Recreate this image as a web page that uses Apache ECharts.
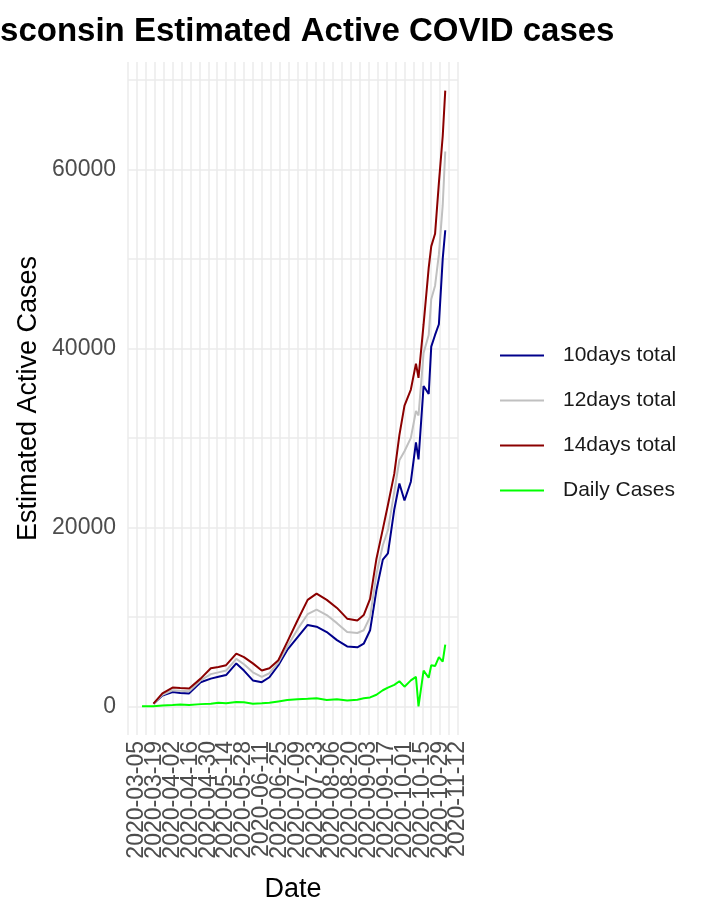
<!DOCTYPE html>
<html>
<head>
<meta charset="utf-8">
<script src="https://cdn.jsdelivr.net/npm/echarts@6/dist/echarts.min.js"></script>
<style>body{margin:0;background:#fff}#main{width:720px;height:921px}</style>
</head>
<body>
<div id="main"></div>
<script>
var dates = ['2020-03-09','2020-03-18','2020-03-25','2020-04-02','2020-04-08','2020-04-15','2020-04-24','2020-05-02','2020-05-08','2020-05-14',
  '2020-05-22','2020-05-28','2020-06-04','2020-06-11','2020-06-17','2020-06-24','2020-07-01','2020-07-09','2020-07-17','2020-07-24',
  '2020-08-01','2020-08-09','2020-08-17','2020-08-25','2020-08-30','2020-09-04','2020-09-09','2020-09-14','2020-09-18','2020-09-23',
  '2020-09-27','2020-10-01','2020-10-06','2020-10-10','2020-10-12','2020-10-16','2020-10-20','2020-10-22','2020-10-25','2020-10-28',
  '2020-10-31','2020-11-02'];
var tenDays = [null,300,1200,1600,1500,1450,2700,3100,3300,3500, 4800,4000,2900,2700,3250,4600,6300,7700,9100,8900,
  8300,7400,6700,6600,7000,8500,13000,16400,17100,22000, 24900,23000,25100,29500,27600,35800,34900,40200,41500,42700, 50000,53200];
var twelveDays = [null,300,1300,1800,1750,1700,2900,3600,3800,4000, 5300,4700,3800,3300,3700,4900,6700,8600,10300,10800,
  10200,9300,8300,8200,8500,10000,14800,18000,19700,24000, 27500,28500,30000,33000,32500,39500,41500,45500,47000,50500, 56000,62000];
var fourteenDays = [null,300,1450,2100,2050,2000,3100,4250,4400,4600, 5900,5500,4800,4000,4250,5150,7200,9600,11900,12600,
  11900,11000,9800,9600,10200,12000,16500,19800,22500,26000, 30300,33600,35400,38300,36700,42700,49000,51400,52800,58500, 63700,68800];
var daily = [0,0,100,150,200,150,250,300,400,350, 500,450,300,350,400,550,700,800,850,900,
  700,800,650,750,900,1000,1300,1800,2100,2400, 2800,2200,2900,3300,0,4000,3200,4600,4500,5500, 5000,6900];
var yTicks = [0,10000,20000,30000,40000,50000,60000,70000];

var base = Date.UTC(2020,2,5);
var DAY = 86400000;
function dayOf(s){ var p = s.split('-'); return Math.round((Date.UTC(+p[0],p[1]-1,+p[2]) - base)/DAY); }
function dateOf(d){ return new Date(base + d*DAY).toISOString().slice(0,10); }
function pairs(arr){ return arr.map(function(v,i){ return [dayOf(dates[i]), v]; }); }

var myChart = echarts.init(document.getElementById('main'));
var txt = {color:'#4d4d4d', fontSize:23, fontFamily:'Liberation Sans'};

function mk(name, data, color){
  return {name:name, type:'line', data:pairs(data), symbol:'none', connectNulls:false,
    lineStyle:{color:color, width:2}, itemStyle:{color:color}};
}

option = {
  animation:false,
  title:{text:'Wisconsin Estimated Active COVID cases', left:-45, top:10,
    textStyle:{fontSize:33, fontWeight:'bold', color:'#000', fontFamily:'Liberation Sans'}},
  legend:{orient:'vertical', left:495, top:340, itemGap:24, itemWidth:44, itemHeight:2,
    icon:'rect', textStyle:{fontSize:21, color:'#1a1a1a', fontFamily:'Liberation Sans', padding:[0,0,0,14]},
    data:['10days total','12days total','14days total','Daily Cases']},
  grid:{left:128, right:262, top:62, bottom:186},
  xAxis:{type:'value', min:-7, max:252, interval:7,
    name:'Date', nameLocation:'middle', nameGap:141,
    nameTextStyle:{fontSize:27, color:'#000', fontFamily:'Liberation Sans'},
    axisLine:{show:false}, axisTick:{show:false},
    splitLine:{lineStyle:{color:'#ebebeb', width:1.5}},
    axisLabel:Object.assign({rotate:90, margin:6, showMinLabel:true, showMaxLabel:true,
      formatter:function(v){ return (v % 14 === 0 && v >= 0) ? dateOf(v) : ''; }}, txt)},
  yAxis:{type:'value', min:-3200, max:72000,
    name:'Estimated Active Cases', nameLocation:'middle', nameGap:86,
    nameTextStyle:{fontSize:27, color:'#000', fontFamily:'Liberation Sans'},
    axisLine:{show:false},
    axisTick:{show:false, customValues:yTicks},
    splitLine:{lineStyle:{color:'#ebebeb', width:1.5}},
    axisLabel:Object.assign({margin:12, customValues:yTicks,
      formatter:function(v){ return v % 20000 === 0 ? String(v) : ''; }}, txt)},
  series:[
    mk('10days total', tenDays, '#00008b'),
    mk('12days total', twelveDays, '#c0c0c0'),
    mk('14days total', fourteenDays, '#8b0000'),
    mk('Daily Cases', daily, '#00ff00')
  ]
};
myChart.setOption(option);
</script>
</body>
</html>
